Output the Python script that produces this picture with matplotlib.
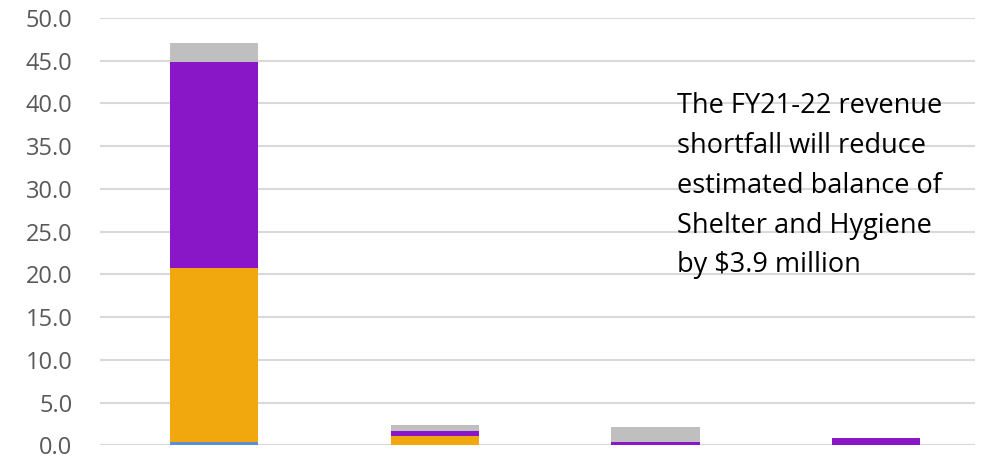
import numpy as np
import matplotlib.pyplot as plt

plt.rcParams['font.family'] = ['Open Sans', 'DejaVu Sans']

# stacked segments per category ($ millions)
categories = ['A', 'B', 'C', 'D']
seg_blue = [0.35, 0.0, 0.0, 0.0]
seg_orange = [20.35, 1.13, 0.0, 0.0]
seg_purple = [24.2, 0.58, 0.4, 0.9]
seg_grey = [2.2, 0.7, 1.74, 0.0]
y_ticks = np.arange(0, 50.1, 5)

colors = ['#5B8FD6', '#F0A80E', '#8A17C7', '#BFBFBF']

fig = plt.figure(figsize=(9.92, 4.61), dpi=100)
ax = fig.add_axes([0.101, 0.034, 0.882, 0.927])

x = np.arange(len(categories))
bottom = np.zeros(len(categories))
for seg, c in zip([seg_blue, seg_orange, seg_purple, seg_grey], colors):
    ax.bar(x, seg, bottom=bottom, width=0.4, color=c, zorder=3)
    bottom += np.array(seg)

ax.set_ylim(0, 50)
ax.set_xlim(-0.517, 3.448)
ax.set_yticks(y_ticks)
ax.set_yticklabels([f'{v:.1f}' for v in y_ticks], fontsize=17, color='#595959')
ax.set_xticks([])
ax.yaxis.grid(True, color='#D9D9D9', linewidth=1.5, zorder=0)
ax.tick_params(axis='y', length=0, pad=20)
for s in ax.spines.values():
    s.set_visible(False)
ax.axhline(0, color='#D9D9D9', linewidth=1.5, zorder=2)

ax.text(2.095, 41.3, 'The FY21-22 revenue\nshortfall will reduce\nestimated balance of\nShelter and Hygiene\nby $3.9 million',
        fontsize=19.5, ha='left', va='top', linespacing=1.56, color='black', zorder=4)

fig.savefig('out.png', dpi=100)
